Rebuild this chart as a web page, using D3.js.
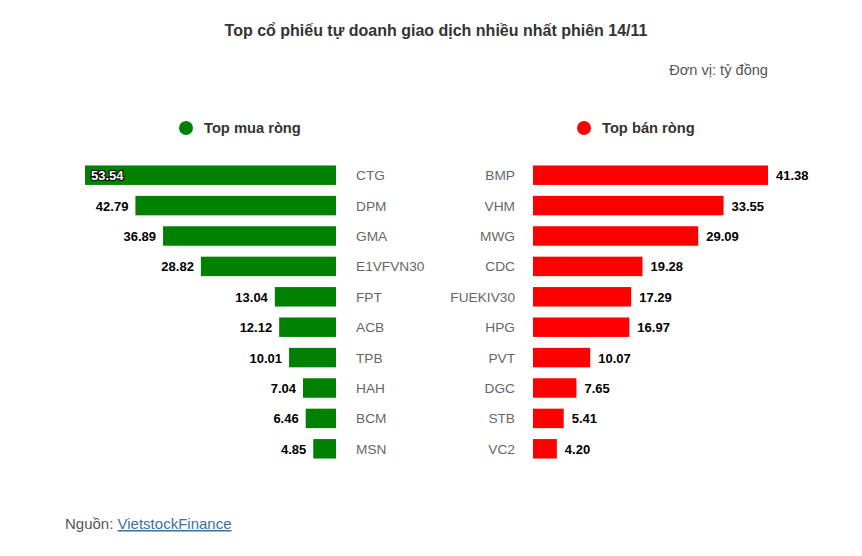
<!DOCTYPE html>
<html><head><meta charset="utf-8">
<script src="https://cdn.jsdelivr.net/npm/d3@7"></script>
<style>body{margin:0;background:#fff;font-family:"Liberation Sans",Arial,sans-serif}</style>
</head><body><svg id="c" width="862" height="556"></svg>
<script>
const buyCodes = ["CTG","DPM","GMA","E1VFVN30","FPT","ACB","TPB","HAH","BCM","MSN"];
const buyValues = [53.54,42.79,36.89,28.82,13.04,12.12,10.01,7.04,6.46,4.85];
const sellCodes = ["BMP","VHM","MWG","CDC","FUEKIV30","HPG","PVT","DGC","STB","VC2"];
const sellValues = [41.38,33.55,29.09,19.28,17.29,16.97,10.07,7.65,5.41,4.20];
const title = "Top cổ phiếu tự doanh giao dịch nhiều nhất phiên 14/11";
const unit = "Đơn vị: tỷ đồng";

const svg = d3.select("#c");
const font = "'Liberation Sans',Arial,sans-serif";
svg.append("rect").attr("width",862).attr("height",556).attr("fill","#fff");

svg.append("text").attr("x",436).attr("y",36).attr("text-anchor","middle")
  .attr("font-family",font).attr("font-size",16).attr("font-weight","bold").attr("fill","#333").text(title);
svg.append("text").attr("x",768).attr("y",75).attr("text-anchor","end")
  .attr("font-family",font).attr("font-size",14.6).attr("fill","#555").text(unit);

// legends
const legends = [{x:186,c:"#008000",t:"Top mua ròng"},{x:584,c:"#ff0000",t:"Top bán ròng"}];
legends.forEach(l=>{
  svg.append("circle").attr("cx",l.x).attr("cy",128).attr("r",7).attr("fill",l.c);
  svg.append("text").attr("x",l.x+18).attr("y",133).attr("font-family",font).attr("font-size",14.7)
    .attr("font-weight","bold").attr("fill","#333").text(l.t);
});

const y = d3.scaleBand().domain(d3.range(10)).range([160,464]).paddingInner(0.36).paddingOuter(0.18);
const xL = d3.scaleLinear().domain([0,53.54]).range([0,251]);
const xR = d3.scaleLinear().domain([0,41.38]).range([0,235]);
const leftEdge = 336, rightStart = 533;

const gL = svg.append("g");
buyValues.forEach((v,i)=>{
  const w = xL(v), yy = y(i), h = y.bandwidth();
  gL.append("rect").attr("x",leftEdge-w).attr("y",yy).attr("width",w).attr("height",h).attr("fill","#008000");
  gL.append("text").attr("x",356).attr("y",yy+h/2+5).attr("font-family",font).attr("font-size",13.7)
    .attr("fill","#666").text(buyCodes[i]);
  if(i===0){
    gL.append("text").attr("x",leftEdge-w+6).attr("y",yy+h/2+5).attr("font-family",font).attr("font-size",13)
      .attr("font-weight","bold").attr("fill","#fff").attr("stroke","#000").attr("stroke-width",2)
      .attr("paint-order","stroke").text(v.toFixed(2));
  } else {
    gL.append("text").attr("x",leftEdge-w-7).attr("y",yy+h/2+5).attr("text-anchor","end").attr("font-family",font)
      .attr("font-size",13).attr("font-weight","bold").attr("fill","#000").text(v.toFixed(2));
  }
});

const gR = svg.append("g");
sellValues.forEach((v,i)=>{
  const w = xR(v), yy = y(i), h = y.bandwidth();
  gR.append("rect").attr("x",rightStart).attr("y",yy).attr("width",w).attr("height",h).attr("fill","#ff0000");
  gR.append("text").attr("x",515).attr("y",yy+h/2+5).attr("text-anchor","end").attr("font-family",font)
    .attr("font-size",13.7).attr("fill","#666").text(sellCodes[i]);
  gR.append("text").attr("x",rightStart+w+8).attr("y",yy+h/2+5).attr("font-family",font)
    .attr("font-size",13).attr("font-weight","bold").attr("fill","#000").text(v.toFixed(2));
});

const src = svg.append("text").attr("x",65).attr("y",529).attr("font-family",font).attr("font-size",15).attr("fill","#555");
src.append("tspan").text("Nguồn: ");
src.append("tspan").attr("fill","#3a6fa0").attr("text-decoration","underline").text("VietstockFinance");
</script></body></html>
